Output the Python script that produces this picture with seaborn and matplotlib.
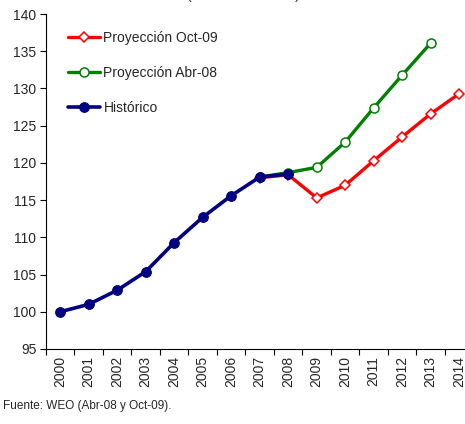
import pandas as pd
import matplotlib.pyplot as plt
import seaborn as sns
from matplotlib.ticker import MultipleLocator, FixedLocator

# series (index, 2000 = 100)
YEARS_HIST = [2000, 2001, 2002, 2003, 2004, 2005, 2006, 2007, 2008]
HISTORICO = [100.0, 101.0, 102.9, 105.4, 109.3, 112.7, 115.6, 118.1, 118.5]

YEARS_ABR08 = [2007, 2008, 2009, 2010, 2011, 2012, 2013]
PROY_ABR08 = [118.1, 118.7, 119.4, 122.8, 127.4, 131.8, 136.1]

YEARS_OCT09 = [2007, 2008, 2009, 2010, 2011, 2012, 2013, 2014]
PROY_OCT09 = [118.0, 118.4, 115.3, 117.0, 120.3, 123.5, 126.6, 129.3]

ALL_YEARS = list(range(2000, 2015))

sns.set_style("white")
plt.rcParams['font.family'] = ['Liberation Sans', 'DejaVu Sans']

fig = plt.figure(figsize=(4.65, 4.24), dpi=100)
ax = fig.add_axes([46 / 465, 75 / 424, 427.5 / 465, 335 / 424])

oct09 = pd.DataFrame({'year': YEARS_OCT09, 'value': PROY_OCT09})
abr08 = pd.DataFrame({'year': YEARS_ABR08, 'value': PROY_ABR08})
hist = pd.DataFrame({'year': YEARS_HIST, 'value': HISTORICO})

sns.lineplot(data=oct09, x='year', y='value', ax=ax, color='#FF0000', lw=2.4,
             marker='D', markersize=5.5, markerfacecolor='white',
             markeredgecolor='#FF0000', markeredgewidth=1.1,
             label='Proyección Oct-09')
sns.lineplot(data=abr08, x='year', y='value', ax=ax, color='#008000', lw=2.4,
             marker='o', markersize=6.5, markerfacecolor='white',
             markeredgecolor='#008000', markeredgewidth=1.1,
             label='Proyección Abr-08')
sns.lineplot(data=hist, x='year', y='value', ax=ax, color='#000080', lw=2.6,
             marker='o', markersize=7, markerfacecolor='#000080',
             markeredgecolor='#000080', label='Histórico')

ax.set_xlim(1999.5, 2014.5)
ax.set_ylim(95, 140)
ax.yaxis.set_major_locator(MultipleLocator(5))
ax.set_xticks(ALL_YEARS)
ax.set_xticklabels([str(y) for y in ALL_YEARS], rotation=90, fontsize=10)
ax.xaxis.set_minor_locator(FixedLocator([y + 0.5 for y in range(1999, 2015)]))
ax.tick_params(axis='x', which='major', length=0, pad=5)
ax.tick_params(axis='x', which='minor', length=4, width=0.8, color='black', direction='out', bottom=True)
ax.tick_params(axis='y', length=4, width=0.8, color='black', direction='out', left=True, labelsize=10, pad=3)
ax.set_xlabel('')
ax.set_ylabel('')

for s in ['top', 'right']:
    ax.spines[s].set_visible(False)
for s in ['left', 'bottom']:
    ax.spines[s].set_color('black')
    ax.spines[s].set_linewidth(0.8)

leg = ax.legend(loc='upper left', bbox_to_anchor=(68 / 465, 1 - 31 / 424),
                bbox_transform=fig.transFigure, frameon=False, fontsize=10,
                handlelength=2.3, handletextpad=0.25, labelspacing=1.5,
                borderaxespad=0, borderpad=0)

# title cut off at the top of the image, only the bottom of the brackets shows
fig.text(243 / 465, 1 + 1 / 424, '(Índice 2000=100)', ha='center', va='baseline', fontsize=10)
fig.text(3 / 465, 15 / 424, 'Fuente: WEO (Abr-08 y Oct-09).', ha='left', va='baseline', fontsize=8.5)

fig.savefig('out.png', dpi=100)
